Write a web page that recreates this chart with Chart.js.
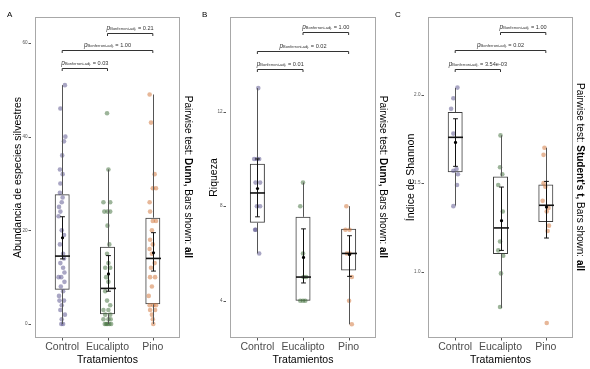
<!DOCTYPE html>
<html>
<head>
<meta charset="utf-8">
<script src="https://cdn.jsdelivr.net/npm/chart.js@4"></script>
<style>
  body { margin: 0; background: #fff; font-family: 'Liberation Sans', Arial, sans-serif; }
  #wrap { position: relative; width: 590px; height: 369px; overflow: hidden; }
  .panel { position: absolute; top: 0; height: 369px; }
  .tag { position: absolute; top: 11px; font-size: 8px; line-height: 8px; color: #000; }
  .side { position: absolute; top: 177px; transform: translate(-50%, -50%); writing-mode: vertical-rl;
          white-space: nowrap; font-size: 10px; color: #000; }
</style>
</head>
<body>
<div id="wrap">
  <div class="panel" style="left:0;width:195px"><canvas id="chartA"></canvas></div>
  <div class="panel" style="left:195px;width:195px"><canvas id="chartB"></canvas></div>
  <div class="panel" style="left:390px;width:200px"><canvas id="chartC"></canvas></div>
  <div class="tag" style="left:7px">A</div>
  <div class="tag" style="left:202px">B</div>
  <div class="tag" style="left:395px">C</div>
  <div class="side" style="left:188.5px">Pairwise test: <b>Dunn,</b> Bars shown: <b>all</b></div>
  <div class="side" style="left:383.5px">Pairwise test: <b>Dunn,</b> Bars shown: <b>all</b></div>
  <div class="side" style="left:580px">Pairwise test: <b>Student's t,</b> Bars shown: <b>all</b></div>
</div>
<script>
const categories = ['Control', 'Eucalipto', 'Pino'];
const xTitle = 'Tratamientos';

// A: abundancia
const abundControl = [51, 46, 40, 39, 36, 33, 32, 30, 28, 27, 26, 25, 24, 23, 20, 19, 17, 15, 14, 13, 12, 11, 10, 10, 9, 8, 7, 6, 5, 5, 4, 3, 2, 1, 0, 0];
const abundEucalipto = [45, 33, 26, 26, 24, 24, 24, 21, 17, 15, 13, 12, 12, 10, 9, 7, 5, 4, 3, 3, 2, 2, 1, 1, 1, 0, 0, 0, 0, 0];
const abundPino = [49, 43, 32, 29, 29, 26, 24, 22, 22, 20, 18, 17, 16, 15, 13, 12, 10, 10, 8, 6, 4, 4, 4, 3, 3, 2, 1, 0];
const abundJitControl = [0.06, -0.04, 0.07, 0.04, 0, -0.05, 0.01, -0.04, -0.05, 0.01, -0.01, -0.07, -0.04, -0.08, -0.01, 0.04, -0.05, 0.02, 0.04, -0.04, 0.02, 0.05, -0.08, -0.02, 0.05, -0.03, 0.02, -0.07, -0.06, 0.04, -0.01, -0.04, 0.06, -0.01, -0.02, 0.02];
const abundJitEucalipto = [-0.01, 0.02, -0.09, 0.06, -0.07, 0, 0.06, 0, 0.04, -0.01, 0.02, -0.05, 0.06, -0.03, 0.02, -0.05, -0.01, 0.06, -0.09, 0.02, -0.05, 0.06, -0.09, 0.02, 0.07, -0.06, 0, 0.04, -0.03, 0.08];
const abundJitPino = [-0.07, -0.04, 0.04, 0, 0.07, -0.07, -0.06, 0, 0.07, -0.02, -0.06, 0, -0.07, -0.02, 0.04, -0.04, -0.06, 0.05, -0.02, -0.09, -0.07, 0.01, 0.07, -0.06, 0.05, -0.02, 0, 0.01];
const abundQ1 = [7.3, 2.1, 4.2];
const abundMedian = [14.5, 7.6, 14.0];
const abundQ3 = [27.7, 16.5, 22.7];
const abundLow = [0, 0, 0];
const abundHigh = [51, 33, 49];
const abundMean = [18.4, 10.7, 15.2];
const abundCiLow = [13.9, 7.0, 11.3];
const abundCiHigh = [22.9, 14.6, 19.5];
const abundBracketY = [54.6, 58.4, 62.2];
const abundP = ['0.03', '1.00', '0.21'];
const abundTicks = [0, 20, 40, 60];

// B: riqueza
const riqControl = [13, 10, 10, 10, 9, 9, 8, 8, 7, 7, 6];
const riqEucalipto = [9, 8, 6, 5, 5, 4, 4, 4];
const riqPino = [8, 7, 7, 6, 6, 5, 4, 3];
const riqJitControl = [0.02, -0.07, -0.01, 0.04, -0.04, 0.06, -0.01, 0.06, -0.05, -0.04, 0.04];
const riqJitEucalipto = [0, -0.06, 0, 0.01, 0.07, -0.06, 0, 0.05];
const riqJitPino = [-0.05, -0.07, 0.02, -0.04, 0.02, 0.07, 0.01, 0.07];
const riqQ1 = [7.3, 4.0, 5.28];
const riqMedian = [8.56, 5.0, 6.0];
const riqQ3 = [9.8, 7.55, 7.04];
const riqLow = [6, 4, 3];
const riqHigh = [13, 9, 8];
const riqMean = [8.75, 5.83, 5.95];
const riqCiLow = [7.55, 4.75, 5.03];
const riqCiHigh = [10.0, 7.04, 6.75];
const riqBracketY = [13.81, 14.59, 15.36];
const riqP = ['0.01', '0.02', '1.00'];
const riqTicks = [4, 8, 12];

// C: indice de Shannon
const shanControl = [2.04, 1.98, 1.92, 1.78, 1.58, 1.57, 1.55, 1.49, 1.37];
const shanEucalipto = [1.77, 1.59, 1.55, 1.49, 1.34, 1.17, 1.12, 1.09, 0.99, 0.80];
const shanPino = [1.70, 1.66, 1.50, 1.48, 1.40, 1.36, 1.34, 1.26, 1.23, 0.71];
const shanJitControl = [0.05, -0.04, -0.09, -0.04, 0.03, -0.04, 0.06, 0.04, -0.04];
const shanJitEucalipto = [0, -0.01, 0.04, -0.05, 0.05, -0.01, -0.05, 0.06, 0.01, -0.01];
const shanJitPino = [-0.03, -0.05, -0.05, -0.01, -0.07, 0.06, 0.02, 0.07, 0.04, 0.02];
const shanQ1 = [1.561, 1.10, 1.281];
const shanMedian = [1.759, 1.247, 1.375];
const shanQ3 = [1.902, 1.538, 1.492];
const shanLow = [1.373, 0.795, 1.19];
const shanHigh = [2.038, 1.77, 1.70];
const shanMean = [1.73, 1.288, 1.365];
const shanCiLow = [1.595, 1.12, 1.19];
const shanCiHigh = [1.864, 1.478, 1.51];
const shanBracketY = [2.147, 2.25, 2.352];
const shanP = ['3.54e-03', '0.02', '1.00'];
const shanTicks = [1.0, 1.5, 2.0];

const bracketPairs = [[1, 2], [1, 3], [2, 3]];
const pointColors = ['rgba(84,78,138,0.5)', 'rgba(60,108,54,0.5)', 'rgba(208,112,50,0.5)'];
const FONT = "'Liberation Sans', Arial, sans-serif";

function line(ctx, x1, y1, x2, y2) {
    ctx.beginPath();
    ctx.moveTo(x1, y1);
    ctx.lineTo(x2, y2);
    ctx.stroke();
}

// p_{Bonferroni-adj.} = value, centred on cx
function drawP(ctx, cx, by, value) {
    const parts = [
        ['italic 6.5px ' + FONT, 'p', 0],
        ['4px ' + FONT, 'Bonferroni-adj.', 0.8],
        ['5.6px ' + FONT, ' = ' + value, 0]
    ];
    let total = 0;
    parts.forEach(p => { ctx.font = p[0]; total += ctx.measureText(p[1]).width; });
    let px = cx - total / 2;
    ctx.fillStyle = '#333';
    ctx.textBaseline = 'alphabetic';
    ctx.textAlign = 'left';
    parts.forEach(p => {
        ctx.font = p[0];
        ctx.fillText(p[1], px, by + p[2]);
        px += ctx.measureText(p[1]).width;
    });
}

function makePanel(id, p) {
    const datasets = [{
        type: 'bar',
        data: categories.map((c, i) => ({ x: i + 1, y: [p.q1[i], p.q3[i]] })),
        backgroundColor: 'rgba(255,255,255,0)',
        borderColor: '#3c3c3c',
        borderWidth: 1,
        borderSkipped: false,
        barPercentage: 0.33,
        categoryPercentage: 1,
        order: 2
    }];
    p.groups.forEach((vals, i) => {
        datasets.push({
            type: 'scatter',
            data: vals.map((v, j) => ({ x: i + 1 + p.jitter[i][j], y: v })),
            pointRadius: 2.3,
            pointBorderWidth: 0,
            backgroundColor: pointColors[i],
            order: 1
        });
    });

    const boxPlugin = {
        id: 'boxes',
        afterDatasetsDraw(chart) {
            const { ctx, chartArea: a, scales: { x, y } } = chart;
            const bars = chart.getDatasetMeta(0).data;
            ctx.save();
            ctx.lineWidth = 1;
            // panel border
            ctx.strokeStyle = '#a8a8a8';
            ctx.strokeRect(Math.round(a.left) + 0.5, Math.round(a.top) + 0.5,
                Math.round(a.right - a.left) - 1, Math.round(a.bottom - a.top) - 1);
            // axis ticks
            ctx.strokeStyle = '#555';
            p.ticks.forEach(v => {
                const py = Math.round(y.getPixelForValue(v)) + 0.5;
                line(ctx, a.left - 6.5, py, a.left - 4, py);
            });
            categories.forEach((c, i) => {
                const px = Math.round(x.getPixelForValue(i + 1)) + 0.5;
                line(ctx, px, a.bottom, px, a.bottom + 2.5);
            });
            // whiskers, medians, means
            categories.forEach((c, i) => {
                const cx = Math.round(x.getPixelForValue(i + 1)) + 0.5;
                const hw = bars[i].width / 2;
                ctx.strokeStyle = '#555';
                ctx.lineWidth = 1;
                line(ctx, cx, y.getPixelForValue(p.high[i]), cx, y.getPixelForValue(p.q3[i]));
                line(ctx, cx, y.getPixelForValue(p.q1[i]), cx, y.getPixelForValue(p.low[i]));
                ctx.strokeStyle = '#111';
                ctx.lineWidth = 1.6;
                const my = y.getPixelForValue(p.median[i]);
                line(ctx, cx - hw, my, cx + hw, my);
                ctx.lineWidth = 1;
                const c1 = y.getPixelForValue(p.ciLow[i]), c2 = y.getPixelForValue(p.ciHigh[i]);
                line(ctx, cx, c1, cx, c2);
                line(ctx, cx - 2.4, c1, cx + 2.4, c1);
                line(ctx, cx - 2.4, c2, cx + 2.4, c2);
                ctx.fillStyle = '#000';
                ctx.beginPath();
                ctx.arc(cx, y.getPixelForValue(p.mean[i]), 1.6, 0, Math.PI * 2);
                ctx.fill();
            });
            // significance brackets
            ctx.strokeStyle = '#333';
            ctx.lineWidth = 1;
            bracketPairs.forEach(([g1, g2], k) => {
                const by = Math.round(y.getPixelForValue(p.bracketY[k])) + 0.5;
                const x1 = x.getPixelForValue(g1), x2 = x.getPixelForValue(g2);
                ctx.beginPath();
                ctx.moveTo(x1, by + 2.5);
                ctx.lineTo(x1, by);
                ctx.lineTo(x2, by);
                ctx.lineTo(x2, by + 2.5);
                ctx.stroke();
                drawP(ctx, (x1 + x2) / 2, by - 4, p.pvals[k]);
            });
            ctx.restore();
        }
    };

    return new Chart(document.getElementById(id), {
        type: 'bar',
        data: { datasets },
        options: {
            responsive: true,
            maintainAspectRatio: false,
            animation: false,
            events: [],
            layout: { padding: { left: 0, right: p.rightPad, top: 17, bottom: 0 } },
            plugins: { legend: { display: false }, tooltip: { enabled: false } },
            scales: {
                x: {
                    type: 'linear',
                    min: 0.4,
                    max: 3.6,
                    offset: false,
                    afterBuildTicks: s => { s.ticks = categories.map((c, i) => ({ value: i + 1 })); },
                    afterFit: s => { s.height = 31; },
                    grid: { display: false, drawTicks: false },
                    border: { display: false },
                    ticks: {
                        callback: (v, i) => categories[i],
                        font: { family: FONT, size: 10.5 },
                        color: '#4d4d4d',
                        padding: 3,
                        maxRotation: 0,
                        autoSkip: false
                    },
                    title: {
                        display: true,
                        text: xTitle,
                        font: { family: FONT, size: 10.5 },
                        color: '#000',
                        padding: { top: 0, bottom: 3 }
                    }
                },
                y: {
                    min: p.yMin,
                    max: p.yMax,
                    afterBuildTicks: s => { s.ticks = p.ticks.map(v => ({ value: v })); },
                    afterFit: s => { s.width = p.yWidth; },
                    grid: { display: false, drawTicks: false },
                    border: { display: false },
                    ticks: {
                        callback: v => p.fmt(v),
                        font: { family: FONT, size: 4.6 },
                        color: '#555',
                        padding: 7.5
                    },
                    title: {
                        display: true,
                        text: p.yTitle,
                        font: { family: FONT, size: 10.5 },
                        color: '#000',
                        padding: { top: p.titlePad, bottom: 0 }
                    }
                }
            }
        },
        plugins: [boxPlugin]
    });
}

makePanel('chartA', {
    groups: [abundControl, abundEucalipto, abundPino],
    jitter: [abundJitControl, abundJitEucalipto, abundJitPino],
    q1: abundQ1, median: abundMedian, q3: abundQ3, low: abundLow, high: abundHigh,
    mean: abundMean, ciLow: abundCiLow, ciHigh: abundCiHigh,
    bracketY: abundBracketY, pvals: abundP, ticks: abundTicks,
    yMin: -2.99, yMax: 65.55, yTitle: 'Abundancia de especies silvestres',
    fmt: v => String(v), yWidth: 35, rightPad: 15, titlePad: 11.5
});

makePanel('chartB', {
    groups: [riqControl, riqEucalipto, riqPino],
    jitter: [riqJitControl, riqJitEucalipto, riqJitPino],
    q1: riqQ1, median: riqMedian, q3: riqQ3, low: riqLow, high: riqHigh,
    mean: riqMean, ciLow: riqCiLow, ciHigh: riqCiHigh,
    bracketY: riqBracketY, pvals: riqP, ticks: riqTicks,
    yMin: 2.42, yMax: 16.01, yTitle: 'Riqueza',
    fmt: v => String(v), yWidth: 35, rightPad: 14, titlePad: 13
});

makePanel('chartC', {
    groups: [shanControl, shanEucalipto, shanPino],
    jitter: [shanJitControl, shanJitEucalipto, shanJitPino],
    q1: shanQ1, median: shanMedian, q3: shanQ3, low: shanLow, high: shanHigh,
    mean: shanMean, ciLow: shanCiLow, ciHigh: shanCiHigh,
    bracketY: shanBracketY, pvals: shanP, ticks: shanTicks,
    yMin: 0.625, yMax: 2.439, yTitle: 'Índice de Shannon',
    fmt: v => v.toFixed(1), yWidth: 38, rightPad: 17, titlePad: 14.5
});
</script>
</body>
</html>
